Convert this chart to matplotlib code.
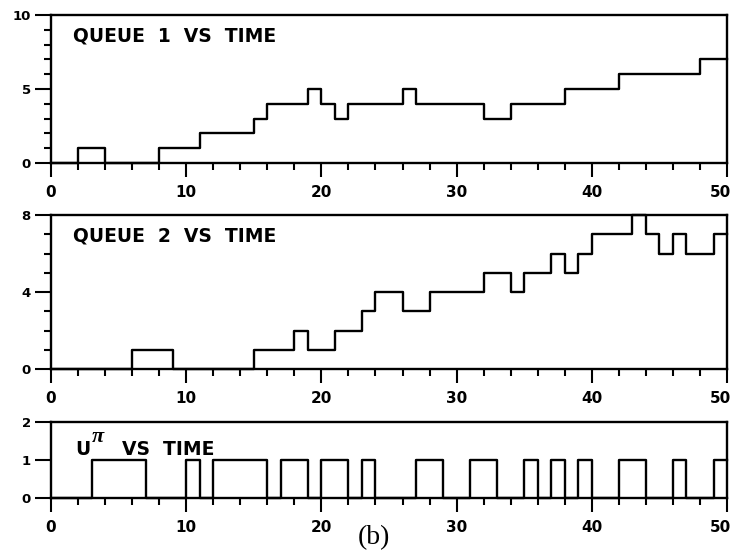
import matplotlib
matplotlib.use("Agg")
import matplotlib.pyplot as plt
from matplotlib.ticker import MultipleLocator
from matplotlib.transforms import ScaledTranslation

# ---- data ----
q1_t = [0, 2, 4, 8, 11, 15, 16, 19, 20, 21, 22, 26, 27, 32, 34, 38, 42, 48, 50]
q1_v = [0, 1, 0, 1, 2, 3, 4, 5, 4, 3, 4, 5, 4, 3, 4, 5, 6, 7, 7]

q2_t = [0, 6, 9, 15, 18, 19, 21, 23, 24, 26, 28, 32, 34, 35, 37, 38, 39, 40, 43, 44, 45, 46, 47, 49, 50]
q2_v = [0, 1, 0, 1, 2, 1, 2, 3, 4, 3, 4, 5, 4, 5, 6, 5, 6, 7, 8, 7, 6, 7, 6, 7, 7]

u_t = [0, 3, 7, 10, 11, 12, 16, 17, 19, 20, 22, 23, 24, 27, 29, 31, 33, 35, 36, 37, 38, 39, 40, 42, 44, 46, 47, 49, 50]
u_v = [0, 1, 0, 1, 0, 1, 0, 1, 0, 1, 0, 1, 0, 1, 0, 1, 0, 1, 0, 1, 0, 1, 0, 1, 0, 1, 0, 1, 1]

x_ticks = [0, 10, 20, 30, 40, 50]
q1_yticks = [0, 5, 10]
q2_yticks = [0, 4, 8]
u_yticks = [0, 1, 2]

fig = plt.figure(figsize=(7.34, 5.54), dpi=100)
fig.patch.set_facecolor("white")

positions = [
    [0.0695, 0.7058, 0.921, 0.267],
    [0.0695, 0.3339, 0.921, 0.278],
    [0.0695, 0.1011, 0.921, 0.137],
]
series = [(q1_t, q1_v, q1_yticks), (q2_t, q2_v, q2_yticks), (u_t, u_v, u_yticks)]

lw = 1.7
axes = []
for pos, (t, v, yt) in zip(positions, series):
    ax = fig.add_axes(pos)
    ax.step(t, v, where="post", color="black", lw=lw, clip_on=False)
    ax.set_xlim(0, 50)
    ax.set_ylim(yt[0], yt[-1])
    for s in ax.spines.values():
        s.set_linewidth(lw)
    ax.set_xticks(x_ticks)
    ax.set_xticklabels([str(x) for x in x_ticks])
    ax.xaxis.set_minor_locator(MultipleLocator(2))
    ax.set_yticks(yt)
    ax.set_yticklabels([str(y) for y in yt])
    ax.yaxis.set_minor_locator(MultipleLocator(1))
    ax.tick_params(axis="x", which="major", direction="out", length=10, width=1.5, pad=6,
                   labelsize=11)
    ax.tick_params(axis="x", which="minor", direction="out", length=5, width=1.5)
    ax.tick_params(axis="y", which="major", direction="out", length=11.5, width=1.5, pad=3,
                   labelsize=9.5)
    ax.tick_params(axis="y", which="minor", direction="out", length=5, width=1.5)
    for lab in ax.get_xticklabels() + ax.get_yticklabels():
        lab.set_fontweight("bold")
    last = ax.xaxis.get_major_ticks()[-1].label1
    last.set_transform(last.get_transform() + ScaledTranslation(-5 / 72, 0, fig.dpi_scale_trans))
    axes.append(ax)

title_kw = dict(fontsize=13.5, fontweight="bold", ha="left", va="baseline")
axes[0].text(1.63, 8.2, "QUEUE  1  VS  TIME", **title_kw)
axes[1].text(1.63, 6.6, "QUEUE  2  VS  TIME", **title_kw)
axes[2].text(1.78, 1.12, "U", **title_kw)
axes[2].text(3.0, 1.47, "\u03c0", fontsize=16, fontstyle="italic", fontweight="bold",
             family="Liberation Serif", ha="left", va="baseline")
axes[2].text(5.25, 1.12, "VS  TIME", **title_kw)

fig.text(0.5095, 0.029, "(b)", fontsize=20, family="Liberation Serif",
         ha="center", va="center")

fig.savefig("out.png", dpi=100, facecolor="white")
